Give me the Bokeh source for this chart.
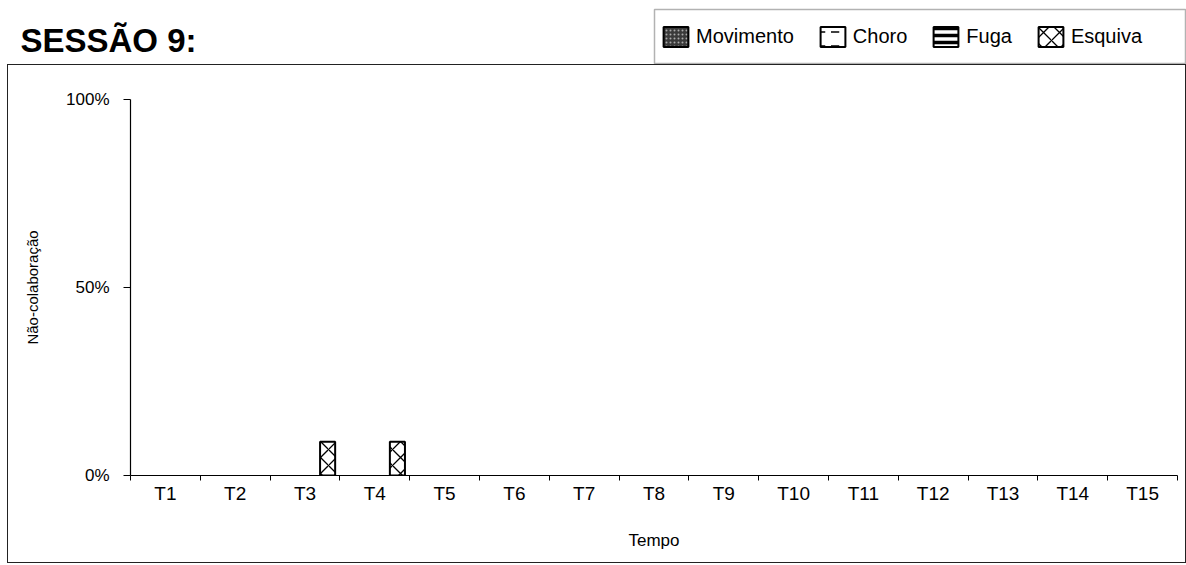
from bokeh.plotting import figure
from bokeh.layouts import column
from bokeh.models import (ColumnDataSource, FixedTicker, Legend, LegendItem, BoxAnnotation,
                          Label, Range1d, CDSView, BooleanFilter)
from bokeh.embed import file_html
from bokeh.resources import INLINE
from bokeh.transform import dodge

categories = ["T1", "T2", "T3", "T4", "T5", "T6", "T7", "T8", "T9", "T10",
              "T11", "T12", "T13", "T14", "T15"]
movimento = [0, 0, 0, 0, 0, 0, 0, 0, 0, 0, 0, 0, 0, 0, 0]
choro = [0, 0, 0, 0, 0, 0, 0, 0, 0, 0, 0, 0, 0, 0, 0]
fuga = [0, 0, 0, 0, 0, 0, 0, 0, 0, 0, 0, 0, 0, 0, 0]
esquiva = [0, 0, 9, 9, 0, 0, 0, 0, 0, 0, 0, 0, 0, 0, 0]
series_names = ["Movimento", "Choro", "Fuga", "Esquiva"]
y_ticks = [0, 50, 100]
y_tick_labels = ["0%", "50%", "100%"]
title_text = "SESSÃO 9:"
x_title = "Tempo"
y_title = "Não-colaboração"

FONT = "Liberation Sans"
n = len(categories)
x_center = [i + 0.5 for i in range(n)]
source = ColumnDataSource(dict(x=x_center, mov=movimento, cho=choro, fug=fuga, esq=esquiva))

# ---------------- main chart ----------------
p = figure(width=1177, height=497, x_range=Range1d(0, n), y_range=Range1d(0, 100),
           output_backend="svg", toolbar_location=None,
           min_border_left=122, min_border_right=8, min_border_top=34, min_border_bottom=87,
           margin=(0, 0, 0, 8), styles={"outline": "1.5px solid #222"}, frame_align=False)
p.xgrid.visible = False
p.ygrid.visible = False
p.outline_line_color = None

bw = 0.216
offsets = [-1.5 * bw, -0.5 * bw, 0.5 * bw, 1.5 * bw]
cols = ["mov", "cho", "fug", "esq"]
vals = [movimento, choro, fuga, esquiva]
styles = [
    dict(fill_color="#3a3a3a", hatch_pattern=".", hatch_color="#aaaaaa", hatch_scale=4, hatch_weight=1),
    dict(fill_color="white", hatch_pattern='"', hatch_color="black", hatch_scale=14, hatch_weight=1.5),
    dict(fill_color="white", hatch_pattern="-", hatch_color="black", hatch_scale=7, hatch_weight=3.5),
    dict(fill_color="white", hatch_pattern="x", hatch_color="black", hatch_scale=16, hatch_weight=1.3),
]
for c, off, v, st in zip(cols, offsets, vals, styles):
    view = CDSView(filter=BooleanFilter([val > 0 for val in v]))
    p.vbar(x=dodge("x", off, range=p.x_range), top=c, width=bw, source=source, view=view,
           line_color="black", line_width=2, **st)

p.xaxis.ticker = FixedTicker(ticks=x_center, minor_ticks=list(range(n + 1)))
p.xaxis.major_label_overrides = {x: cat for x, cat in zip(x_center, categories)}
p.xaxis.major_tick_out = 0
p.xaxis.major_tick_in = 0
p.xaxis.minor_tick_out = 5
p.xaxis.minor_tick_in = 0
p.xaxis.minor_tick_line_color = "black"
p.xaxis.axis_line_color = "black"
p.xaxis.axis_line_width = 1.2
p.xaxis.major_label_text_font = FONT
p.xaxis.major_label_text_font_size = "19px"
p.xaxis.major_label_text_color = "black"
p.xaxis.major_label_standoff = 2
p.xaxis.axis_label = x_title
p.xaxis.axis_label_text_font = FONT
p.xaxis.axis_label_text_font_size = "17px"
p.xaxis.axis_label_text_font_style = "normal"
p.xaxis.axis_label_text_color = "black"
p.xaxis.axis_label_standoff = 24

p.yaxis.ticker = FixedTicker(ticks=y_ticks)
p.yaxis.major_label_overrides = {t: l for t, l in zip(y_ticks, y_tick_labels)}
p.yaxis.major_tick_out = 7
p.yaxis.major_tick_in = 0
p.yaxis.minor_tick_line_color = None
p.yaxis.major_tick_line_color = "black"
p.yaxis.axis_line_color = "black"
p.yaxis.axis_line_width = 1.2
p.yaxis.major_label_text_font = FONT
p.yaxis.major_label_text_font_size = "17px"
p.yaxis.major_label_text_color = "black"
p.yaxis.major_label_standoff = 14
p.yaxis.axis_label = y_title
p.yaxis.axis_label_text_font = FONT
p.yaxis.axis_label_text_font_size = "15px"
p.yaxis.axis_label_text_font_style = "normal"
p.yaxis.axis_label_text_color = "black"
p.yaxis.axis_label_standoff = 22

# ---------------- header: title + legend ----------------
h = figure(width=1186, height=65, x_range=Range1d(0, 1186), y_range=Range1d(0, 65),
           output_backend="svg", toolbar_location=None, x_axis_type=None, y_axis_type=None,
           min_border=0, min_border_left=0, min_border_right=0, min_border_top=0, min_border_bottom=0,
           frame_align=False)
h.xgrid.visible = False
h.ygrid.visible = False
h.outline_line_color = None
# legend proxies: same data, mapped to an off-screen range so only the legend swatches show
h.extra_y_ranges = {"hidden": Range1d(1000, 2000)}
h.extra_x_ranges = {"hiddenx": Range1d(0, n)}

legend_renderers = []
for c, st in zip(cols, styles):
    r = h.vbar(x="x", top=c, width=bw, source=source, x_range_name="hiddenx", y_range_name="hidden",
               line_color="black", line_width=2, **st)
    legend_renderers.append(r)

h.add_layout(Label(x=20, y=25, text=title_text, text_font=FONT, text_font_size="33px",
                   text_font_style="bold", text_baseline="alphabetic", text_color="black"))

h.add_layout(BoxAnnotation(left=654, right=1185, top=56, bottom=2, fill_color="white",
                           fill_alpha=1, line_color="black", line_width=1.5, level="underlay"))

legend = Legend(items=[LegendItem(label=nm, renderers=[r]) for nm, r in zip(series_names, legend_renderers)],
                orientation="horizontal", location=(660, 16),
                glyph_width=31, glyph_height=25, label_height=25,
                label_text_font=FONT, label_text_font_size="20px", label_text_color="black",
                label_standoff=5, spacing=23, padding=0, margin=0,
                border_line_color=None, background_fill_alpha=0)
h.add_layout(legend)

layout = column(h, p, spacing=0)
open("out.html", "w").write(file_html(layout, INLINE))
